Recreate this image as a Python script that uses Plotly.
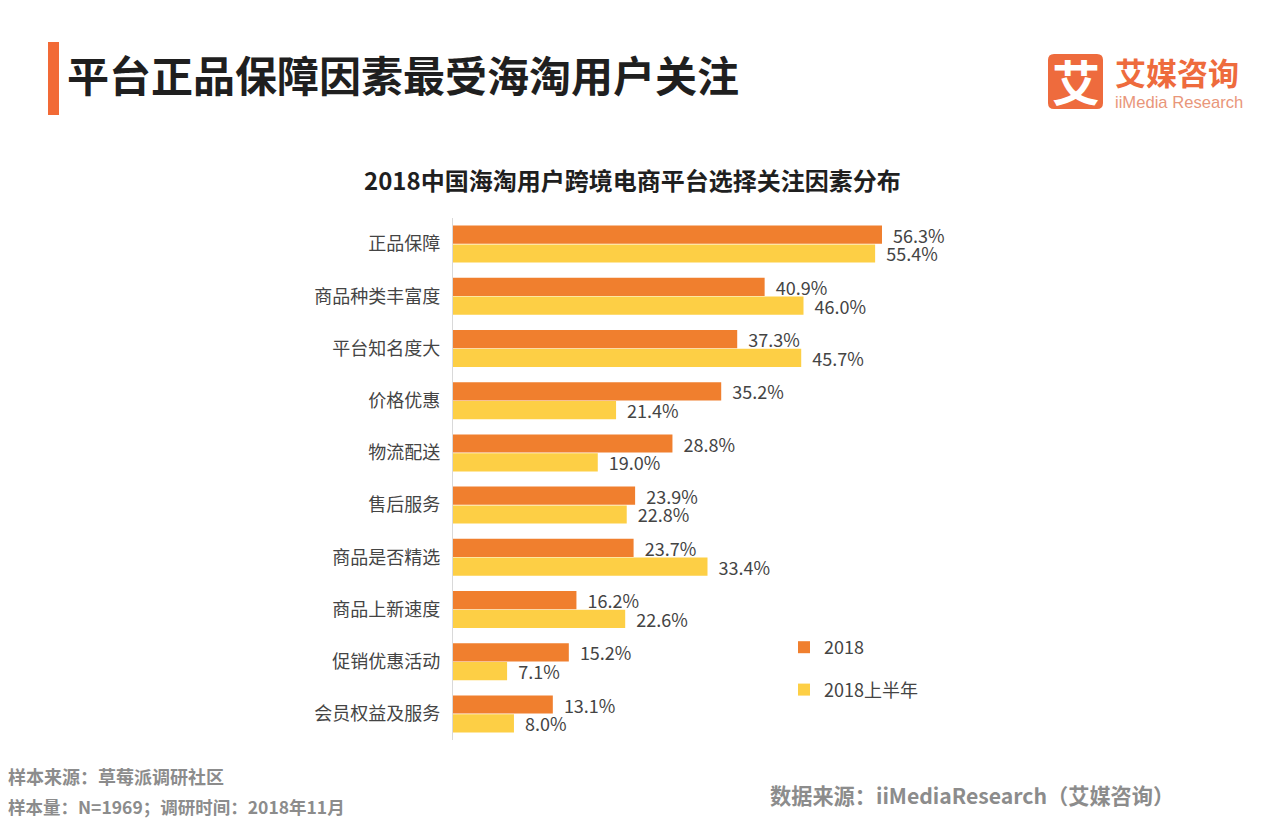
import plotly.graph_objects as go

categories = ["正品保障", "商品种类丰富度", "平台知名度大", "价格优惠", "物流配送", "售后服务",
              "商品是否精选", "商品上新速度", "促销优惠活动", "会员权益及服务"]
values_2018 = [56.3, 40.9, 37.3, 35.2, 28.8, 23.9, 23.7, 16.2, 15.2, 13.1]
values_2018h1 = [55.4, 46.0, 45.7, 21.4, 19.0, 22.8, 33.4, 22.6, 7.1, 8.0]
series_names = ["2018", "2018上半年"]
title_text = "平台正品保障因素最受海淘用户关注"
chart_title = "2018中国海淘用户跨境电商平台选择关注因素分布"
source_lines = ["样本来源：草莓派调研社区", "样本量：N=1969；调研时间：2018年11月"]
source_right = "数据来源：iiMediaResearch（艾媒咨询）"

FONT = "Noto Sans CJK SC"
W, H = 1268, 819
L, R, T, B = 453, 194, 218, 79
ORANGE, YELLOW = "#F07F2E", "#FDCF45"

def px(x):
    return (x - L) / (W - L - R)

def py(y):
    return (H - B - y) / (H - T - B)

fig = go.Figure()
for name, vals, col in [(series_names[0], values_2018, ORANGE), (series_names[1], values_2018h1, YELLOW)]:
    fig.add_trace(go.Bar(
        y=categories, x=vals, name=name, orientation="h", marker=dict(color=col, line_width=0),
        text=[f"\u00a0\u00a0{v:.1f}%" for v in vals], textposition="outside", cliponaxis=False,
        constraintext="none",
        textfont=dict(size=18, color="#444444", family=FONT), legendgroup=name,
    ))

def text(x, y, s, size, color, anchor="left", bold=False, font=FONT):
    fig.add_annotation(xref="paper", yref="paper", x=px(x), y=py(y), text=f"<b>{s}</b>" if bold else s,
                       showarrow=False, xanchor=anchor, yanchor="middle",
                       font=dict(size=size, color=color, family=font))

text(65, 73, title_text, 42, "#1f1f1f", bold=True)
text(632, 179, chart_title, 24, "#1f1f1f", "center", bold=True)
text(6, 776, source_lines[0], 18, "#8c8c8c", bold=True)
text(6, 806, source_lines[1], 17.5, "#8c8c8c", bold=True)
text(768, 794, source_right, 21.2, "#8c8c8c", bold=True)
text(1113, 71, "艾媒咨询", 31, "#EE6B3D", bold=True)
text(1113, 103, "iiMedia Research", 16.6, "#E9967A", font="Liberation Sans")
text(1075.5, 80, "艾", 48, "white", "center", bold=True)

fig.add_shape(type="rect", xref="paper", yref="paper", x0=px(48), x1=px(59), y0=py(42), y1=py(115),
              fillcolor="#F26A36", line_width=0, layer="below")
x0, x1, y0, y1, r = 1048, 1103, 54, 109, 6
logo = (f"M {px(x0+r)} {py(y0)} L {px(x1-r)} {py(y0)} Q {px(x1)} {py(y0)} {px(x1)} {py(y0+r)} "
        f"L {px(x1)} {py(y1-r)} Q {px(x1)} {py(y1)} {px(x1-r)} {py(y1)} L {px(x0+r)} {py(y1)} "
        f"Q {px(x0)} {py(y1)} {px(x0)} {py(y1-r)} L {px(x0)} {py(y0+r)} Q {px(x0)} {py(y0)} {px(x0+r)} {py(y0)} Z")
fig.add_shape(type="path", xref="paper", yref="paper", path=logo, fillcolor="#EE6B3D", line_width=0, layer="below")

fig.update_layout(
    width=W, height=H, margin=dict(l=L, r=R, t=T, b=B), paper_bgcolor="white", plot_bgcolor="white",
    barmode="group", bargap=0.28, bargroupgap=0.03, font=dict(family=FONT),
    showlegend=True,
    legend=dict(x=px(792), y=py(629), xanchor="left", yanchor="top", tracegroupgap=16, indentation=-8,
                traceorder="grouped", font=dict(size=18, color="#444444", family=FONT), bgcolor="rgba(0,0,0,0)"),
    xaxis=dict(range=[0, 81.5], visible=False),
    yaxis=dict(autorange="reversed", showline=True, linecolor="#D9D9D9", linewidth=1, ticks="",
               tickfont=dict(size=18, color="#444444", family=FONT), ticksuffix="  ", showgrid=False),
)
fig.write_html("out.html", config={"displayModeBar": False}, post_script="document.body.style.margin='0';")
